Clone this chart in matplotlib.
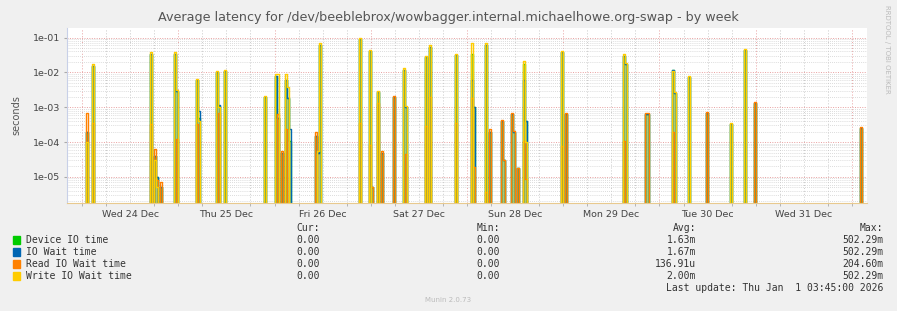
import numpy as np
import matplotlib.pyplot as plt
from matplotlib.ticker import FixedLocator, NullFormatter

# hours from Wed 24 Dec 00:00, one row per 30-minute sample with activity
hours = [1.0, 2.5, 17.0, 18.0, 18.5, 19.5, 23.0, 23.5, 28.5, 29.0,
         33.5, 34.0, 35.5, 45.5, 48.0, 48.5, 49.5, 50.5, 51.0, 51.5,
         58.0, 58.5, 59.0, 69.0, 71.5, 72.0, 73.5, 74.5, 77.5, 80.0,
         80.5, 85.5, 86.5, 93.0, 97.0, 97.5, 100.5, 101.5, 104.5, 105.0,
         107.0, 107.5, 108.5, 110.0, 110.5, 119.5, 120.5, 135.0, 135.5, 140.5,
         141.0, 147.0, 147.5, 151.0, 155.5, 161.5, 165.0, 167.5, 194.0]
device_io = [2e-4, 1.5e-2, 3.5e-2, 4e-5, 1e-5, 5e-6, 3.5e-2, 3e-3, 6e-3, 5e-4,
             1e-2, 1.1e-3, 1.1e-2, 2e-3, 8e-3, 5e-4, 5e-5, 6.2e-3, 1.9e-3, 1.1e-4,
             1.5e-4, 5e-5, 6e-2, 9e-2, 4e-2, 5e-6, 2.8e-3, 5e-5, 2e-3, 1.2e-2,
             1e-3, 2.8e-2, 5.5e-2, 3.2e-2, 3.4e-2, 1e-3, 6e-2, 2e-4, 4e-4, 3e-5,
             6.5e-4, 2e-4, 1.8e-5, 1.8e-2, 4e-4, 3.8e-2, 6.5e-4, 3e-2, 1.8e-2, 6.5e-4,
             6.5e-4, 1.2e-2, 2.5e-3, 7.5e-3, 7e-4, 3.3e-4, 4.5e-2, 1.3e-3, 2.6e-4]
io_wait = [2e-4, 1.5e-2, 3.5e-2, 4e-5, 1e-5, 5e-6, 3.5e-2, 3e-3, 6e-3, 7.6e-4,
           1e-2, 1.15e-3, 1.1e-2, 2e-3, 8e-3, 5e-4, 5e-5, 6.2e-3, 1.9e-3, 2.3e-4,
           1.5e-4, 5e-5, 6e-2, 9e-2, 4e-2, 5e-6, 2.8e-3, 5e-5, 2e-3, 1.2e-2,
           1e-3, 2.8e-2, 5.5e-2, 3.2e-2, 6.2e-3, 1e-3, 6e-2, 2e-4, 4e-4, 3e-5,
           6.5e-4, 2e-4, 1.8e-5, 6e-3, 4e-4, 3.8e-2, 6.5e-4, 3e-2, 1.8e-2, 6.5e-4,
           6.5e-4, 1.2e-2, 2.5e-3, 7.5e-3, 7e-4, 3.3e-4, 4.5e-2, 1.3e-3, 2.6e-4]
read_wait = [7e-4, 3.5e-4, 3.4e-4, 6.5e-5, 8e-6, 7e-6, 0, 1.2e-4, 3.2e-4, 0,
             0, 6.9e-4, 0, 0, 0, 6.5e-4, 5.5e-5, 2.4e-4, 0, 0,
             2e-4, 0, 0, 3.5e-4, 8.5e-5, 5e-6, 1.35e-3, 5.5e-5, 2.1e-3, 0,
             4.5e-5, 2.9e-4, 2e-3, 3.5e-4, 1.8e-3, 1.9e-5, 3.6e-6, 2.4e-4, 4.3e-4, 3e-5,
             6.9e-4, 2.1e-4, 1.8e-5, 1.1e-4, 8.5e-6, 7.7e-5, 7e-4, 1.1e-4, 0, 6.9e-4,
             6.9e-4, 2e-4, 0, 0, 7.4e-4, 0, 0, 1.4e-3, 2.8e-4]
write_wait = [1e-4, 1.7e-2, 3.8e-2, 3e-5, 5e-6, 0, 3.8e-2, 3.2e-3, 6.5e-3, 4e-4,
              1.1e-2, 1e-3, 1.2e-2, 2.1e-3, 9e-3, 9e-3, 0, 9e-3, 3.8e-3, 0,
              0, 5.7e-5, 6.9e-2, 9.6e-2, 4.5e-2, 0, 3e-3, 0, 0, 1.35e-2,
              1.1e-3, 3e-2, 6.2e-2, 3.4e-2, 6.9e-2, 0, 6.9e-2, 0, 0, 0,
              0, 0, 0, 2.2e-2, 1e-4, 4.2e-2, 0, 3.4e-2, 1.9e-2, 0,
              0, 1.1e-2, 2.7e-3, 8.1e-3, 0, 3.6e-4, 4.8e-2, 0, 0]

labels = ["Device IO time", "IO Wait time", "Read IO Wait time", "Write IO Wait time"]
colors = ["#00CC00", "#0066B3", "#FF8000", "#FFCC00"]
cur = ["0.00", "0.00", "0.00", "0.00"]
mins = ["0.00", "0.00", "0.00", "0.00"]
avgs = ["1.63m", "1.67m", "136.91u", "2.00m"]
maxs = ["502.29m", "502.29m", "204.60m", "502.29m"]
day_labels = ["Wed 24 Dec", "Thu 25 Dec", "Fri 26 Dec", "Sat 27 Dec",
              "Sun 28 Dec", "Mon 29 Dec", "Tue 30 Dec", "Wed 31 Dec"]

t = np.arange(-3.5, 196.0, 0.5)
series = []
for vals in [device_io, io_wait, read_wait, write_wait]:
    arr = np.zeros(len(t))
    for h, v in zip(hours, vals):
        arr[int(round((h + 3.5) / 0.5))] = v
    series.append(arr)

bg = "#F0F0F0"
fig = plt.figure(figsize=(8.97, 3.11), dpi=100, facecolor=bg)
ax = fig.add_axes([67 / 897, 1 - 203 / 311, 800 / 897, 175 / 311])
ax.set_facecolor("white")
ax.set_yscale("log")
ax.set_xlim(-3.75, 195.75)
ax.set_ylim(1.78e-6, 0.189)

# grid
for h in np.arange(-3.5, 196, 6):
    pass
for h in range(0, 196, 6):
    c = "#e8a0a0" if h % 24 == 0 else "#c8c8c8"
    ax.axvline(h, color=c, lw=0.7, ls=(0, (1, 2)), zorder=0)
minor = [m * 10.0 ** e for e in range(-6, 0) for m in range(2, 10)]
for y in minor:
    ax.axhline(y, color="#d0d0d0", lw=0.6, ls=(0, (1, 1.5)), zorder=0)
for e in range(-5, 0):
    ax.axhline(10.0 ** e, color="#e8a0a0", lw=0.7, ls=(0, (1, 1.5)), zorder=0)

floor = np.full(len(t), 1e-7)
ax.fill_between(t, floor, np.maximum(series[0], 1e-7), step="post",
                color="#93b548", alpha=0.75, lw=0, zorder=1)
for arr, c in zip(series, colors):
    ax.step(t, np.where(arr > 0, arr, 1e-7), where="post", color=c, lw=1.0, zorder=2)

ax.set_yticks([1e-5, 1e-4, 1e-3, 1e-2, 1e-1])
ax.set_yticklabels(["1e-05", "1e-04", "1e-03", "1e-02", "1e-01"])
ax.yaxis.set_minor_locator(FixedLocator(minor))
ax.yaxis.set_minor_formatter(NullFormatter())
ax.tick_params(axis="y", which="major", labelsize=6.8, labelcolor="#444444",
               color="#aaaaaa", length=2, pad=3)
ax.tick_params(axis="y", which="minor", length=0)
ax.set_xticks(range(0, 196, 6), minor=True)
ax.set_xticks([12 + 24 * i for i in range(8)])
ax.set_xticklabels(day_labels)
ax.tick_params(axis="x", which="major", labelsize=6.8, labelcolor="#444444",
               length=0, pad=5)
ax.tick_params(axis="x", which="minor", color="#aaaaaa", length=2)
ax.set_ylabel("seconds", fontsize=7, color="#555555", labelpad=8)
for s in ["top", "right"]:
    ax.spines[s].set_visible(False)
ax.spines["left"].set_color("#c8d0e8")
ax.spines["bottom"].set_color("#e8c98e")

fig.text(0.5, 1 - 18 / 311, "Average latency for /dev/beeblebrox/wowbagger.internal.michaelhowe.org-swap - by week",
         ha="center", va="center", fontsize=9.2, color="#555555")
fig.text(887 / 897, 1 - 5 / 311, "RRDTOOL / TOBI OETIKER", rotation=270, ha="center",
         va="top", fontsize=5, color="#bbbbbb")

mono = "DejaVu Sans Mono"
fs = 7
fig.text(320 / 897, 1 - 228 / 311, "Cur:", ha="right", va="center", family=mono, fontsize=fs, color="#333333")
fig.text(500 / 897, 1 - 228 / 311, "Min:", ha="right", va="center", family=mono, fontsize=fs, color="#333333")
fig.text(696 / 897, 1 - 228 / 311, "Avg:", ha="right", va="center", family=mono, fontsize=fs, color="#333333")
fig.text(883 / 897, 1 - 228 / 311, "Max:", ha="right", va="center", family=mono, fontsize=fs, color="#333333")
for i in range(4):
    y = 1 - (240 + 12 * i) / 311
    fig.patches.append(plt.Rectangle((13 / 897, y - 4 / 311), 7 / 897, 8 / 311,
                                     transform=fig.transFigure, color=colors[i]))
    fig.text(26 / 897, y, labels[i], ha="left", va="center", family=mono, fontsize=fs, color="#333333")
    fig.text(320 / 897, y, cur[i], ha="right", va="center", family=mono, fontsize=fs, color="#333333")
    fig.text(500 / 897, y, mins[i], ha="right", va="center", family=mono, fontsize=fs, color="#333333")
    fig.text(696 / 897, y, avgs[i], ha="right", va="center", family=mono, fontsize=fs, color="#333333")
    fig.text(883 / 897, y, maxs[i], ha="right", va="center", family=mono, fontsize=fs, color="#333333")
fig.text(883 / 897, 1 - 288 / 311, "Last update: Thu Jan  1 03:45:00 2026", ha="right",
         va="center", family=mono, fontsize=fs, color="#333333")
fig.text(448 / 897, 1 - 300 / 311, "Munin 2.0.73", ha="center", va="center",
         fontsize=5, color="#bbbbbb")

fig.savefig("out.png", dpi=100, facecolor=bg)
